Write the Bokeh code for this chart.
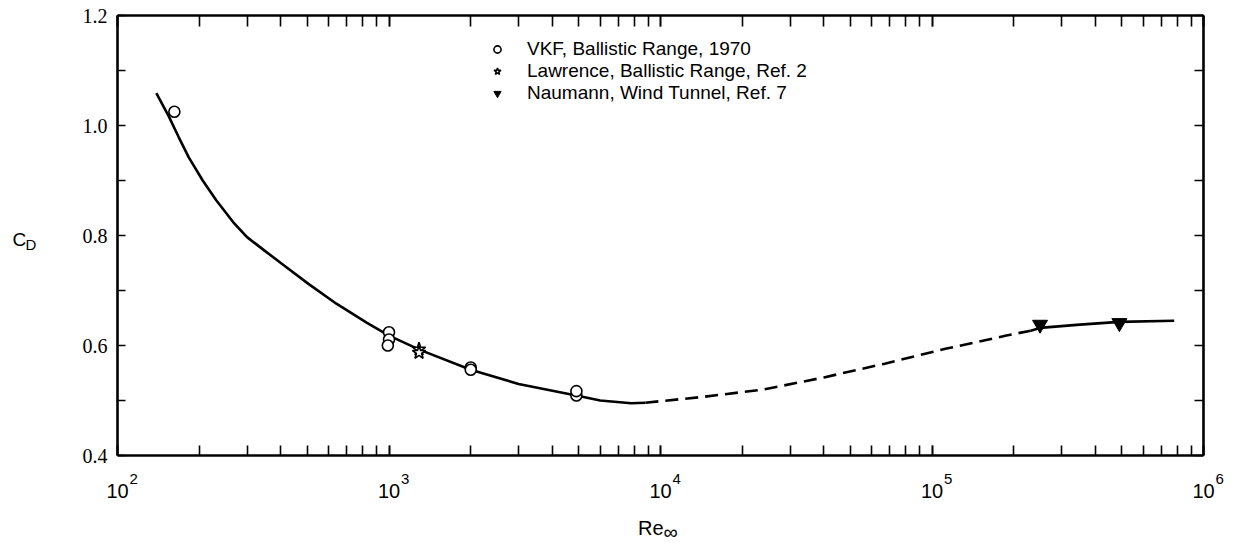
import math
from bokeh.plotting import figure
from bokeh.models import (LogAxis, LinearAxis, Range1d, LogTicker, FixedTicker,
                          Legend, LegendItem, CustomJSTickFormatter, PrintfTickFormatter)
from bokeh.core.properties import value
from bokeh.embed import file_html
from bokeh.resources import INLINE

# Faired drag-coefficient curve, Reynolds number vs C_D
curve_re_low = [139, 154, 168, 183, 206, 231, 267, 300, 347, 412, 505, 640, 830, 1000,
                1300, 2000, 3000, 5000, 6000, 7800, 8800]
curve_cd_low = [1.059, 1.018, 0.979, 0.942, 0.900, 0.864, 0.824, 0.797, 0.773, 0.745,
                0.712, 0.676, 0.641, 0.618, 0.592, 0.556, 0.530, 0.508, 0.500, 0.495, 0.496]
curve_re_mid = [8800, 14000, 24000, 40000, 67000, 112000, 188000, 231000]
curve_cd_mid = [0.496, 0.506, 0.520, 0.542, 0.567, 0.594, 0.618, 0.627]
curve_re_high = [231000, 250000, 350000, 490000, 780000]
curve_cd_high = [0.627, 0.632, 0.638, 0.643, 0.645]

# Measured points
vkf_re = [162, 1000, 1000, 990, 2000, 2000, 4900, 4900]
vkf_cd = [1.025, 0.624, 0.611, 0.600, 0.560, 0.556, 0.509, 0.517]
lawrence_re = [1290, 1290]
lawrence_cd = [0.593, 0.587]
naumann_re = [250000, 490000]
naumann_cd = [0.638, 0.641]

legend_labels = ["VKF, Ballistic Range, 1970",
                 "Lawrence, Ballistic Range, Ref. 2",
                 "Naumann, Wind Tunnel, Ref. 7"]

decades = [100, 1000, 10000, 100000, 1000000]
decade_base = ["10", "10", "10", "10", "10"]
decade_exp = ["2", "3", "4", "5", "6"]
cd_major = [0.4, 0.6, 0.8, 1.0, 1.2]
cd_minor = [0.5, 0.7, 0.9, 1.1]
RE_MIN, RE_MAX = 100, 1e6
CD_MIN, CD_MAX = 0.4, 1.2

# ---- geometry (pixels) ----
W, H = 1236, 545
BOX_L, BOX_R = 117, 1203      # page x of the axes box
BOX_T, BOX_B = 15, 455        # page y of the axes box

# The frame fills the whole canvas; the axes are pinned to the box edges so
# that titles and decade labels outside the box are not clipped.
px_per_decade = (BOX_R - BOX_L) / (math.log10(RE_MAX) - math.log10(RE_MIN))
x0 = 10 ** (math.log10(RE_MIN) - BOX_L / px_per_decade)
x1 = 10 ** (math.log10(RE_MAX) + (W - BOX_R) / px_per_decade)
px_per_cd = (BOX_B - BOX_T) / (CD_MAX - CD_MIN)
y0 = CD_MIN - (H - BOX_B) / px_per_cd
y1 = CD_MAX + BOX_T / px_per_cd

AXIS_W = 2.6
TICK_W = 1.6
blank = CustomJSTickFormatter(code="return ''")

p = figure(width=W, height=H, x_axis_type="log",
           x_range=Range1d(x0, x1), y_range=Range1d(y0, y1),
           output_backend="svg", toolbar_location=None,
           min_border_left=0, min_border_right=0, min_border_top=0, min_border_bottom=0)
p.xgrid.visible = False
p.ygrid.visible = False
p.outline_line_color = None
p.background_fill_color = "white"
p.border_fill_color = "white"

xa = p.xaxis[0]
xa.fixed_location = CD_MIN
xa.bounds = (RE_MIN, RE_MAX)
xa.ticker = LogTicker(num_minor_ticks=10)
xa.formatter = blank
xa.axis_line_width = AXIS_W
xa.major_tick_in = 10
xa.major_tick_out = 0
xa.minor_tick_in = 10
xa.minor_tick_out = 0
xa.major_tick_line_width = TICK_W
xa.minor_tick_line_width = TICK_W
xa.major_label_standoff = 0

ya = p.yaxis[0]
ya.fixed_location = RE_MIN
ya.bounds = (CD_MIN, CD_MAX)
ya.ticker = FixedTicker(ticks=cd_major, minor_ticks=cd_minor)
ya.formatter = PrintfTickFormatter(format="%.1f")
ya.axis_line_width = AXIS_W
ya.major_tick_in = 8
ya.major_tick_out = 0
ya.minor_tick_in = 8
ya.minor_tick_out = 0
ya.major_tick_line_width = TICK_W
ya.minor_tick_line_width = TICK_W
ya.major_label_standoff = 10
ya.major_label_text_font = "Liberation Serif"
ya.major_label_text_font_size = "20px"
ya.major_label_text_color = "black"

top = LogAxis(ticker=LogTicker(num_minor_ticks=10), formatter=blank,
              fixed_location=CD_MAX, bounds=(RE_MIN, RE_MAX),
              axis_line_width=AXIS_W, major_tick_in=11, major_tick_out=0,
              minor_tick_in=11, minor_tick_out=0, major_tick_line_width=TICK_W,
              minor_tick_line_width=TICK_W, major_label_standoff=0)
p.add_layout(top, "above")
right = LinearAxis(ticker=FixedTicker(ticks=cd_major, minor_ticks=cd_minor),
                   formatter=blank, fixed_location=RE_MAX, bounds=(CD_MIN, CD_MAX),
                   axis_line_width=AXIS_W, major_tick_in=9,
                   major_tick_out=0, minor_tick_in=9, minor_tick_out=0,
                   major_tick_line_width=TICK_W, minor_tick_line_width=TICK_W,
                   major_label_standoff=0)
p.add_layout(right, "right")

# Curve: solid through the ballistic-range data, dashed across the gap
p.line(curve_re_low, curve_cd_low, line_color="black", line_width=2.6)
p.line(curve_re_mid, curve_cd_mid, line_color="black", line_width=2.6, line_dash="13 7")
p.line(curve_re_high, curve_cd_high, line_color="black", line_width=2.6)

r_vkf = p.scatter(vkf_re, vkf_cd, marker="circle", size=11, fill_color="white",
                  line_color="black", line_width=1.6)
r_law = p.scatter(lawrence_re, lawrence_cd, marker="star", size=14, fill_color="white",
                  line_color="black", line_width=1.6)
r_nau = p.scatter(naumann_re, naumann_cd, marker="inverted_triangle", size=15,
                  fill_color="black", line_color="black", line_width=1)

legend = Legend(items=[LegendItem(label=legend_labels[0], renderers=[r_vkf]),
                       LegendItem(label=legend_labels[1], renderers=[r_law]),
                       LegendItem(label=legend_labels[2], renderers=[r_nau])],
                location=(487, H - 104), orientation="vertical",
                border_line_alpha=0, background_fill_alpha=0,
                padding=0, margin=0, spacing=-3,
                glyph_width=20, glyph_height=18, label_height=18,
                label_standoff=20,
                label_text_font="Liberation Sans", label_text_font_size="19px",
                label_text_color="black")
p.add_layout(legend, "center")

sans = value("Liberation Sans")

# Decade labels 10^n under the bottom axis
p.text(decades, [CD_MIN] * len(decades), text=decade_base, y_offset=35,
       text_align="center", text_baseline="alphabetic", text_font=sans,
       text_font_size="20px", text_color="black")
p.text(decades, [CD_MIN] * len(decades), text=decade_exp, x_offset=12, y_offset=23,
       text_align="left", text_baseline="alphabetic", text_font=sans,
       text_font_size="15px", text_color="black")

# Axis titles with subscripts
p.text([10000], [CD_MIN], text=["Re"], x_offset=3, y_offset=72, text_align="right",
       text_baseline="alphabetic", text_font=sans, text_font_size="20px",
       text_color="black")
p.text([10000], [CD_MIN], text=["∞"], x_offset=3, y_offset=76, text_align="left",
       text_baseline="middle", text_font=sans, text_font_size="20px",
       text_color="black")
p.text([RE_MIN], [0.8], text=["C"], x_offset=-105, y_offset=4, text_align="left",
       text_baseline="alphabetic", text_font=sans, text_font_size="19px",
       text_color="black")
p.text([RE_MIN], [0.8], text=["D"], x_offset=-92, y_offset=9, text_align="left",
       text_baseline="alphabetic", text_font=sans, text_font_size="15px",
       text_color="black")

open("out.html", "w").write(file_html(p, INLINE))
